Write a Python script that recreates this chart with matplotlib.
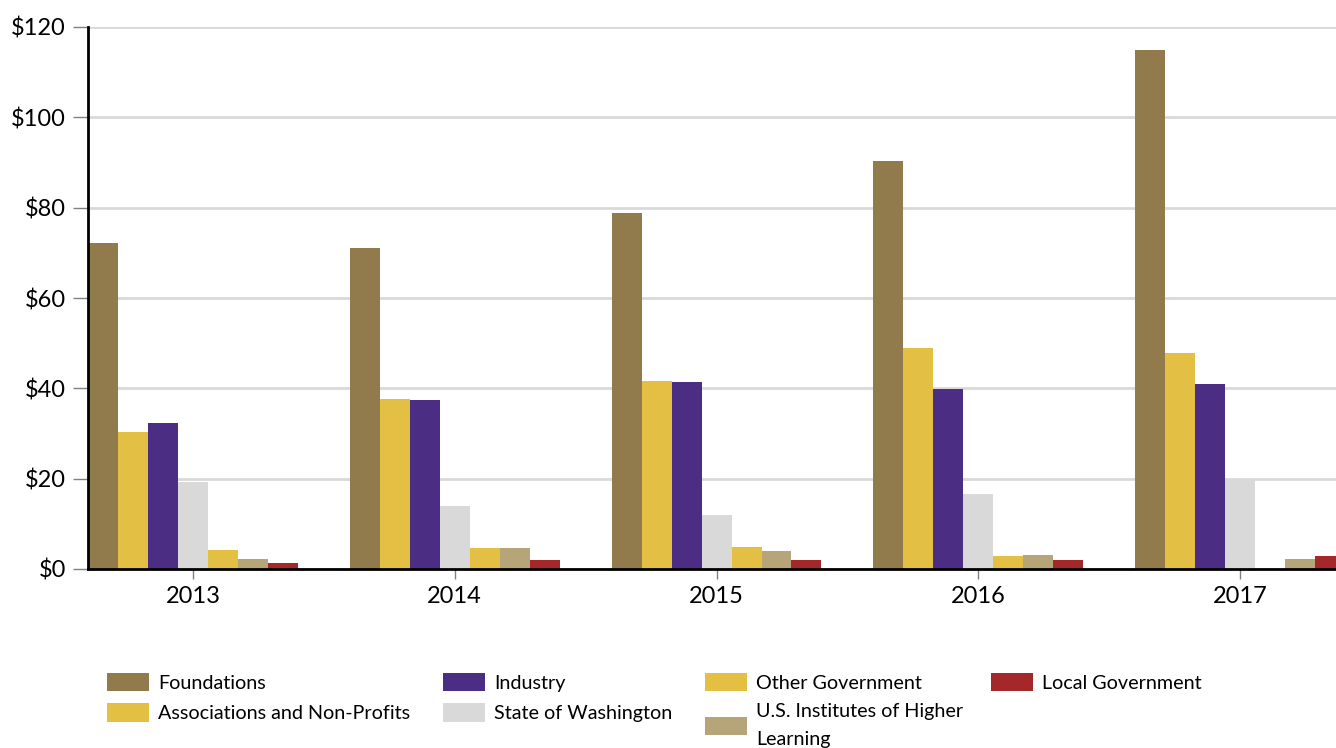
import numpy as np
import matplotlib.pyplot as plt

plt.rcParams['font.family'] = ['Lato', 'DejaVu Sans']

years = ['2013', '2014', '2015', '2016', '2017']
series = ['Foundations', 'Associations and Non-Profits', 'Industry',
          'State of Washington', 'Other Government',
          'U.S. Institutes of Higher\nLearning', 'Local Government']
foundations = [72.2, 71.1, 78.8, 90.4, 114.8]
associations = [30.4, 37.6, 41.6, 48.9, 47.8]
industry = [32.3, 37.4, 41.5, 39.8, 40.9]
washington = [19.2, 13.9, 11.9, 16.5, 19.6]
other_gov = [4.1, 4.7, 4.8, 2.9, 0.0]
us_institutes = [2.3, 4.7, 4.0, 3.1, 2.3]
local_gov = [1.4, 2.0, 1.9, 1.9, 2.9]
values = [foundations, associations, industry, washington, other_gov, us_institutes, local_gov]
colors = ['#917B4C', '#E3BF43', '#4B2E83', '#D9D9D9', '#E3BF43', '#B7A57A', '#A4282A']

fig = plt.figure(figsize=(13.36, 7.48), dpi=100)
ax = fig.add_axes([88/1336, 179/748, 1 - 88/1336, 542/748])

x = np.arange(len(years))
w = 0.1145
bars = []
for i, (vals, c) in enumerate(zip(values, colors)):
    b = ax.bar(x + (i - 3) * w, vals, w, color=c, zorder=3)
    bars.append(b)

ax.set_ylim(0, 120)
ax.set_yticks(range(0, 121, 20))
ax.set_yticklabels(['$' + str(v) for v in range(0, 121, 20)], fontsize=17)
ax.set_xlim(-3.5 * w, 4.366)
ax.set_xticks(x)
ax.set_xticklabels(years, fontsize=17)
ax.yaxis.grid(True, color='#D9D9D9', linewidth=2, zorder=0)
ax.set_axisbelow(True)
for s in ['top', 'right']:
    ax.spines[s].set_visible(False)
for s in ['left', 'bottom']:
    ax.spines[s].set_linewidth(2)
    ax.spines[s].set_color('black')
    ax.spines[s].set_zorder(4)
ax.tick_params(axis='y', length=10.5, width=1, color='#808080', pad=5.5)
ax.tick_params(axis='x', length=7.5, width=1, color='#808080', pad=5)

# legend: four columns placed like the original
col_x = [107, 443, 705, 991]
groups = [[0, 1], [2, 3], [4, 5], [6]]
for cx, g in zip(col_x, groups):
    leg = fig.legend([bars[i] for i in g], [series[i] for i in g],
                     loc='upper left', bbox_to_anchor=(cx/1336, 1 - 673/748),
                     frameon=False, fontsize=14.2, handlelength=2.15, handleheight=1.06,
                     handletextpad=0.45, labelspacing=0.58, borderpad=0, borderaxespad=0)
    for t in leg.get_texts():
        t.set_linespacing(1.75)

fig.savefig('out.png', dpi=100)
